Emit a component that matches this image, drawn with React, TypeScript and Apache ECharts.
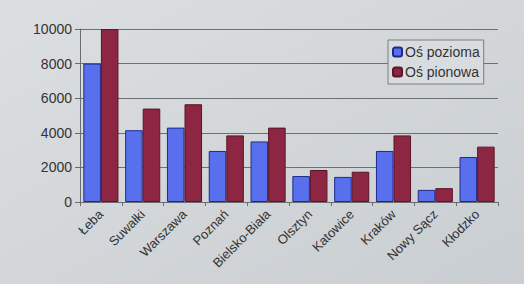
import React, { useEffect, useRef } from "react";
import * as echarts from "echarts";

const categories = ["Łeba", "Suwałki", "Warszawa", "Poznań", "Bielsko-Biała", "Olsztyn", "Katowice", "Kraków", "Nowy Sącz", "Kłodzko"];
const poziomaValues = [8000, 4150, 4300, 2950, 3500, 1500, 1450, 2950, 700, 2600];
const pionowaValues = [10000, 5400, 5650, 3850, 4300, 1850, 1750, 3850, 800, 3200];
const seriesNames = ["Oś pozioma", "Oś pionowa"];

export default function App() {
  const ref = useRef<HTMLDivElement>(null);
  useEffect(() => {
    if (!ref.current) return;
    const chart = echarts.init(ref.current, null, { renderer: "svg" });
    chart.setOption({
      animation: false,
      backgroundColor: {
        type: "linear", x: 0, y: 0, x2: 1, y2: 1,
        colorStops: [
          { offset: 0, color: "#dcdfe1" },
          { offset: 1, color: "#c9ced2" },
        ],
      },
      textStyle: { fontFamily: "Liberation Sans, Arial, sans-serif" },
      grid: { left: 80, right: 26, top: 29, bottom: 82 },
      legend: {
        orient: "vertical",
        left: 388,
        top: 40,
        itemWidth: 9,
        itemHeight: 9,
        itemGap: 6,
        padding: [5, 4, 5, 4],
        borderColor: "#7a7d80",
        borderWidth: 1,
        backgroundColor: "#d9dcdf",
        textStyle: { fontSize: 14, color: "#333", padding: [0, 0, 0, -2] },
        data: seriesNames,
      },
      xAxis: {
        type: "category",
        data: categories,
        axisLine: { lineStyle: { color: "#6a6d70", width: 1 } },
        axisTick: { show: true, length: 4, lineStyle: { color: "#6a6d70" } },
        axisLabel: { rotate: 45, fontSize: 13, color: "#333", margin: 10 },
      },
      yAxis: {
        type: "value",
        min: 0,
        max: 10000,
        interval: 2000,
        axisLine: { show: true, lineStyle: { color: "#6a6d70", width: 1 } },
        axisTick: { show: true, length: 5, lineStyle: { color: "#6a6d70" } },
        axisLabel: { fontSize: 14, color: "#333", margin: 8, formatter: (v: number) => String(v) },
        splitLine: { lineStyle: { color: "#6e7174", width: 1 } },
      },
      series: [
        {
          name: seriesNames[0],
          type: "bar",
          data: poziomaValues,
          barGap: "0%",
          barCategoryGap: "16%",
          itemStyle: { color: "#5870ee", borderColor: "#1e2a8a", borderWidth: 1 },
        },
        {
          name: seriesNames[1],
          type: "bar",
          data: pionowaValues,
          itemStyle: { color: "#8c2643", borderColor: "#5a1528", borderWidth: 1 },
        },
      ],
    });
    return () => chart.dispose();
  }, []);
  return <div ref={ref} style={{ width: 524, height: 284, position: "fixed", left: 0, top: 0 }} />;
}
